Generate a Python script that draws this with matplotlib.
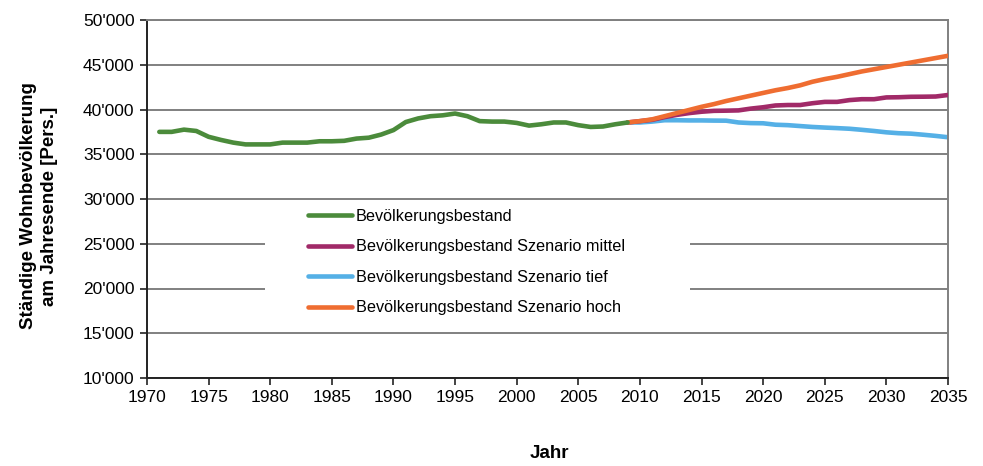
import matplotlib
matplotlib.use("Agg")
import matplotlib.pyplot as plt
from matplotlib.ticker import FuncFormatter, MultipleLocator
from matplotlib.patches import Rectangle

plt.rcParams['font.family'] = ['Liberation Sans', 'DejaVu Sans']

# Historical population (year-end)
hist_years = list(range(1971, 2010))
hist_values = [37500, 37500, 37750, 37600, 36950, 36600, 36300, 36100, 36100, 36100,
               36300, 36300, 36300, 36450, 36450, 36500, 36750, 36850, 37200, 37700,
               38600, 39000, 39250, 39350, 39550, 39250, 38700, 38650, 38650, 38500,
               38200, 38350, 38550, 38550, 38250, 38050, 38100, 38350, 38550]

scen_years = list(range(2009, 2036))
scen_mittel = [38550, 38700, 38850, 39150, 39400, 39600, 39750, 39850, 39870, 39900,
               40100, 40250, 40450, 40500, 40500, 40700, 40850, 40850, 41050, 41150,
               41150, 41350, 41370, 41420, 41430, 41450, 41620]
scen_tief = [38550, 38550, 38650, 38800, 38800, 38780, 38780, 38760, 38750, 38550,
             38480, 38460, 38300, 38250, 38150, 38050, 37980, 37920, 37850, 37730,
             37600, 37450, 37350, 37300, 37180, 37050, 36900]
scen_hoch = [38550, 38700, 38900, 39250, 39600, 39950, 40300, 40600, 40950, 41250,
             41550, 41850, 42150, 42400, 42700, 43100, 43400, 43650, 43950, 44250,
             44500, 44750, 45000, 45250, 45500, 45750, 46000]

labels = ["Bevölkerungsbestand",
          "Bevölkerungsbestand Szenario mittel",
          "Bevölkerungsbestand Szenario tief",
          "Bevölkerungsbestand Szenario hoch"]
colors = ["#4b8b3b", "#a12a68", "#55b0e6", "#ef6d31"]

W, H = 983, 466
fig = plt.figure(figsize=(W / 100, H / 100), dpi=100)
ax = fig.add_axes([147 / W, 1 - 378 / H, (948 - 147) / W, (378 - 20) / H])

ax.set_xlim(1970, 2035)
ax.set_ylim(10000, 50000)
ax.xaxis.set_major_locator(MultipleLocator(5))
ax.yaxis.set_major_locator(MultipleLocator(5000))
ax.yaxis.set_major_formatter(FuncFormatter(lambda v, p: f"{int(v):,}".replace(",", "'")))

ax.grid(axis='y', color='#808080', linewidth=1.4, zorder=0)
ax.set_axisbelow(True)

for side in ('top', 'right'):
    ax.spines[side].set_color('#808080')
    ax.spines[side].set_linewidth(1.4)
for side in ('left', 'bottom'):
    ax.spines[side].set_color('#222222')
    ax.spines[side].set_linewidth(1.4)

ax.tick_params(axis='both', direction='out', length=5, width=1.2, color='#222222',
               labelsize=12.5, labelcolor='black', pad=4)

# white legend background hiding gridlines
ax.add_patch(Rectangle(((265 - 147) / (948 - 147), (378 - 322) / (378 - 20)),
                       (690 - 265) / (948 - 147), (322 - 203) / (378 - 20),
                       transform=ax.transAxes, facecolor='white', edgecolor='none', zorder=1))

lw = 3.3
h1, = ax.plot(hist_years, hist_values, color=colors[0], lw=lw, zorder=5,
              solid_capstyle='round', solid_joinstyle='round')
h2, = ax.plot(scen_years, scen_mittel, color=colors[1], lw=lw, zorder=3,
              solid_capstyle='round', solid_joinstyle='round')
h3, = ax.plot(scen_years, scen_tief, color=colors[2], lw=lw, zorder=2,
              solid_capstyle='round', solid_joinstyle='round')
h4, = ax.plot(scen_years, scen_hoch, color=colors[3], lw=lw, zorder=4,
              solid_capstyle='round', solid_joinstyle='round')

leg = fig.legend([h1, h2, h3, h4], labels, loc='upper left',
                 bbox_to_anchor=(308 / W, 1 - 209 / H), frameon=False,
                 fontsize=11.7, handlelength=2.7, handletextpad=0.25,
                 labelspacing=0.95, borderpad=0, borderaxespad=0)

fig.text(39 / W, 1 - 206 / H, "Ständige Wohnbevölkerung\nam Jahresende [Pers.]",
         rotation=90, ha='center', va='center', multialignment='center',
         fontsize=13.5, fontweight='bold', linespacing=1.35)
fig.text(549 / W, 1 - 454 / H, "Jahr", ha='center', va='center',
         fontsize=13.5, fontweight='bold')

fig.savefig("out.png", dpi=100)
